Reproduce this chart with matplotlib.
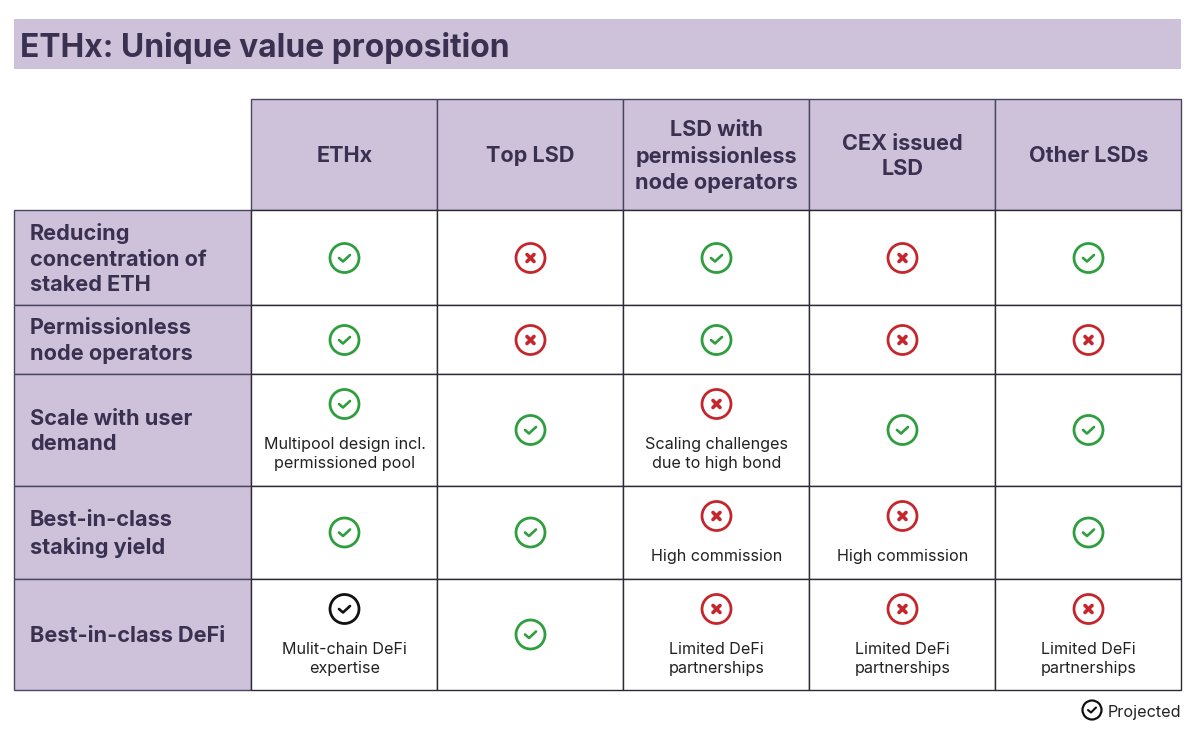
import matplotlib
matplotlib.use("Agg")
import matplotlib.pyplot as plt
from matplotlib.patches import Rectangle, Circle

title = "ETHx: Unique value proposition"
columns = ["ETHx", "Top LSD", "LSD with\npermissionless\nnode operators", "CEX issued\nLSD", "Other LSDs"]
rows = ["Reducing\nconcentration of\nstaked ETH", "Permissionless\nnode operators", "Scale with user\ndemand",
        "Best-in-class\nstaking yield", "Best-in-class DeFi"]
status = [
    ["yes", "no", "yes", "no", "yes"],
    ["yes", "no", "yes", "no", "no"],
    ["yes", "yes", "no", "yes", "yes"],
    ["yes", "yes", "no", "no", "yes"],
    ["proj", "yes", "no", "no", "no"],
]
notes = [
    ["", "", "", "", ""],
    ["", "", "", "", ""],
    ["Multipool design incl.\npermissioned pool", "", "Scaling challenges\ndue to high bond", "", ""],
    ["", "", "High commission", "High commission", ""],
    ["Mulit-chain DeFi\nexpertise", "", "Limited DeFi\npartnerships", "Limited DeFi\npartnerships", "Limited DeFi\npartnerships"],
]
legend_label = "Projected"

col_edges = [14, 251, 437, 623, 809, 995, 1181]
row_edges = [99, 210, 305, 374, 486, 579, 690]
PURPLE = "#cdc2da"
INK = "#3a3050"
EDGE = "#4a4560"
GREEN = "#2f9e3f"
RED = "#c4262b"
BLACK = "#111111"
FONT = ["Inter", "Open Sans", "DejaVu Sans"]
COLORS = {"yes": GREEN, "no": RED, "proj": BLACK}

fig = plt.figure(figsize=(12.04, 7.32), dpi=100)
ax = fig.add_axes([0, 0, 1, 1])
ax.set_xlim(0, 1204)
ax.set_ylim(732, 0)
ax.axis("off")


def icon(cx, cy, kind):
    c = COLORS[kind]
    ax.add_patch(Circle((cx, cy), 14.5, fill=False, ec=c, lw=2.0, zorder=4))
    if kind == "no":
        ax.plot([cx - 3.5, cx + 3.5], [cy - 3.5, cy + 3.5], color=c, lw=2.6, solid_capstyle="round", zorder=4)
        ax.plot([cx - 3.5, cx + 3.5], [cy + 3.5, cy - 3.5], color=c, lw=2.6, solid_capstyle="round", zorder=4)
    else:
        ax.plot([cx - 5.5, cx - 1.5, cx + 5.5], [cy, cy + 3.5, cy - 3], color=c, lw=1.9,
                solid_capstyle="round", solid_joinstyle="round", zorder=4)


# title band
ax.add_patch(Rectangle((14, 19), 1167, 50, fc=PURPLE, ec="none"))
ax.text(20, 48, title, fontsize=22.9, fontweight="bold", family=FONT, color=INK, va="center", ha="left")

# header cells
for j, name in enumerate(columns):
    x0, x1 = col_edges[j + 1], col_edges[j + 2]
    ax.add_patch(Rectangle((x0, row_edges[0]), x1 - x0, row_edges[1] - row_edges[0], fc=PURPLE, ec=EDGE, lw=1.0))
    ax.text((x0 + x1) / 2 + 0.5, (row_edges[0] + row_edges[1]) / 2 + 2, name, fontsize=15.6, fontweight="bold",
            family=FONT, color=INK, ha="center", va="center", linespacing=1.36)

# rows
for i, name in enumerate(rows):
    y0, y1 = row_edges[i + 1], row_edges[i + 2]
    ax.add_patch(Rectangle((col_edges[0], y0), col_edges[1] - col_edges[0], y1 - y0, fc=PURPLE, ec=EDGE, lw=1.0))
    ax.text(30, (y0 + y1) / 2 + 1.5, name, fontsize=15.6, fontweight="bold", family=FONT, color=INK,
            ha="left", va="center", linespacing=1.36)
    for j in range(len(columns)):
        x0, x1 = col_edges[j + 1], col_edges[j + 2]
        ax.add_patch(Rectangle((x0, y0), x1 - x0, y1 - y0, fc="white", ec="#2b2b35", lw=1.0))
        cx = (x0 + x1) / 2 + 0.5
        note = notes[i][j]
        cy = (y0 + y1) / 2
        if note:
            lines = note.count("\n") + 1
            icon_y = y0 + 30
            ax.text(cx, icon_y + (50 if lines == 2 else 40), note, fontsize=11.6, family=FONT, color="#222222",
                    ha="center", va="center", linespacing=1.38)
            icon(cx, icon_y, status[i][j])
        else:
            icon(cx, cy + (0.5 if i < 2 else 0), status[i][j])

# legend
icon_x = 1092
ax.add_patch(Circle((icon_x, 710), 9.5, fill=False, ec=BLACK, lw=1.6))
ax.plot([icon_x - 4, icon_x - 1, icon_x + 4], [710, 712.5, 707.5], color=BLACK, lw=1.5, solid_capstyle="round")
ax.text(1181, 712, legend_label, fontsize=11.6, family=FONT, color="#222222", ha="right", va="center")

fig.savefig("out.png", dpi=100)
